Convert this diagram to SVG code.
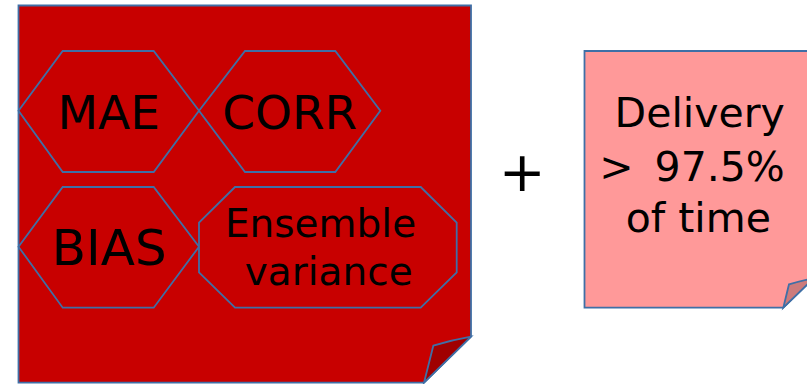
<svg xmlns="http://www.w3.org/2000/svg" width="807" height="384" viewBox="0 0 807 384">
<style>
.ln{stroke:#3F6FA6;stroke-width:1.8;stroke-linejoin:miter}
.red{fill:#C80000}
.redfold{fill:#A00000}
.pink{fill:#FF9999}
.pinkfold{fill:#CD7B7B}
.t{font-family:"DejaVu Sans","Verdana",sans-serif;fill:#000;text-anchor:middle}
</style>
<rect width="807" height="384" fill="#FFFFFF"/>
<g id="note-metrics">
<path class="red ln" d="M18.5,5.5 L471,5.5 L471,336.7 L424,382.7 L18.5,382.7 Z"/>
<path class="redfold ln" d="M424,382.7 L433.3,345.7 Q452,340 471,336.7 Z"/>
</g>
<g id="mae">
<polygon class="red ln" points="18.5,110.7 62.7,51 153.7,51 199,110.7 153.7,172 62.7,172"/>
<text class="t" x="108.7" y="128.7" font-size="47">MAE</text>
</g>
<g id="corr">
<polygon class="red ln" points="199,110.7 245,51 335.3,51 380.3,110.7 335.3,172 245,172"/>
<text class="t" x="289.7" y="128.7" font-size="47">CORR</text>
</g>
<g id="bias">
<polygon class="red ln" points="18.5,246.7 62.7,187 153.7,187 199,246.7 153.7,307.7 62.7,307.7"/>
<text class="t" x="109.3" y="265" font-size="50">BIAS</text>
</g>
<g id="ensemble">
<polygon class="red ln" points="235,187 420.7,187 456.7,222.7 456.7,272.3 420.7,307.7 235,307.7 199,272.3 199,222.7"/>
<text class="t" x="320.5" y="236.7" font-size="39">Ensemble</text>
<text class="t" x="328.7" y="285" font-size="39">variance</text>
</g>
<g id="plus">
<text class="t" x="522.3" y="191" font-size="56">+</text>
</g>
<g id="note-delivery">
<path class="pink ln" d="M584.5,51 L814,51 L814,278 L783.3,307.7 L584.5,307.7 Z"/>
<path class="pinkfold ln" d="M783.3,307.7 L789,284.3 Q800,281 814,278 Z"/>
<text class="t" x="699.7" y="127" font-size="41">Delivery</text>
<text class="t" x="692" y="180.7" font-size="41" word-spacing="8">&gt; 97.5%</text>
<text class="t" x="698.3" y="231.7" font-size="41">of time</text>
</g>
<g id="connectors"></g>
</svg>
